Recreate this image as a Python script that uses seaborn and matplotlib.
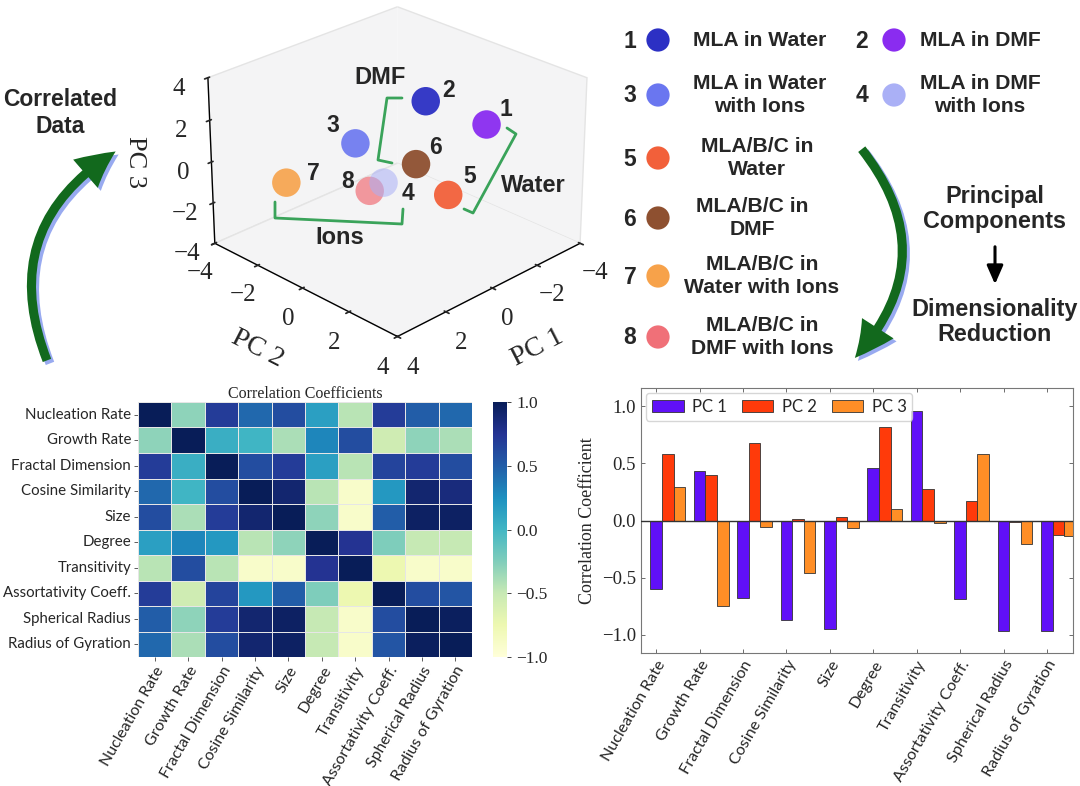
import numpy as np
import pandas as pd
import seaborn as sns
import matplotlib
matplotlib.use("Agg")
import matplotlib.pyplot as plt
from matplotlib.patches import FancyArrowPatch, ArrowStyle
from mpl_toolkits.mplot3d import proj3d

# ---------------- data ----------------
features = ["Nucleation Rate", "Growth Rate", "Fractal Dimension", "Cosine Similarity",
            "Size", "Degree", "Transitivity", "Assortativity Coeff.",
            "Spherical Radius", "Radius of Gyration"]

corr_nucleation = [1.00, -0.30, 0.70, 0.45, 0.60, 0.15, -0.45, 0.70, 0.50, 0.45]
corr_growth     = [-0.30, 1.00, 0.05, 0.00, -0.40, 0.30, 0.60, -0.55, -0.30, -0.40]
corr_fractal    = [0.70, 0.05, 1.00, 0.60, 0.70, 0.15, -0.45, 0.65, 0.70, 0.60]
corr_cosine     = [0.45, 0.00, 0.60, 1.00, 0.90, -0.45, -0.90, 0.20, 0.90, 0.85]
corr_size       = [0.60, -0.40, 0.70, 0.90, 1.00, -0.30, -0.90, 0.50, 0.95, 0.95]
corr_degree     = [0.15, 0.30, 0.20, -0.45, -0.30, 1.00, 0.75, -0.25, -0.50, -0.50]
corr_trans      = [-0.45, 0.60, -0.45, -0.90, -0.90, 0.75, 1.00, -0.75, -0.90, -0.90]
corr_assort     = [0.70, -0.55, 0.65, 0.20, 0.50, -0.25, -0.75, 1.00, 0.60, 0.55]
corr_spherical  = [0.50, -0.30, 0.70, 0.90, 0.95, -0.50, -0.90, 0.60, 1.00, 0.97]
corr_gyration   = [0.45, -0.40, 0.60, 0.90, 0.95, -0.50, -0.90, 0.55, 0.97, 1.00]

pc_names = ["PC 1", "PC 2", "PC 3"]
pc1_loadings = [-0.60, 0.43, -0.68, -0.87, -0.95, 0.46, 0.96, -0.69, -0.97, -0.97]
pc2_loadings = [0.58, 0.40, 0.68, 0.01, 0.03, 0.82, 0.28, 0.17, -0.01, -0.13]
pc3_loadings = [0.29, -0.75, -0.06, -0.46, -0.07, 0.10, -0.02, 0.58, -0.21, -0.14]
pc_colors = ["#6010f8", "#ff3a0a", "#ff8e26"]

sample_ids = ["1", "2", "3", "4", "5", "6", "7", "8"]
sample_names = ["MLA in Water", "MLA in DMF", "MLA in Water\nwith Ions", "MLA in DMF\nwith Ions",
                "MLA/B/C in\nWater", "MLA/B/C in\nDMF", "MLA/B/C in\nWater with Ions",
                "MLA/B/C in\nDMF with Ions"]
legend_colors = ["#2c30c4", "#8a2cf0", "#6a76f0", "#aab0f6", "#f2603a", "#8e5030", "#f7a24a", "#f07078"]

# PCA scores as shown in the 3-D plot (label -> colour as drawn there)
score_pc1 = [-1.9, -0.6, 0.9, 0.3, -1.1, -0.4, 2.4, 0.6]
score_pc2 = [1.9, 0.6, -0.9, -0.3, 1.1, 0.4, -2.4, -0.6]
score_pc3 = [1.8, 2.9, 0.9, -1.0, -1.6, -0.1, -1.0, -1.4]
score_colors = ["#8a2cf0", "#2c30c4", "#6a76f0", "#aab0f6", "#f2603a", "#8e5030", "#f7a24a", "#f07078"]
score_alpha = [0.95, 0.95, 0.9, 0.55, 0.95, 0.95, 0.9, 0.7]

W, H = 1080, 786
sns.set_theme(style="white")
plt.rcParams["font.family"] = ["DejaVu Sans"]
plt.rcParams["axes.unicode_minus"] = True

fig = plt.figure(figsize=(W / 100, H / 100), dpi=100)

def fx(x):
    return x / W

def fy(y):
    return 1 - y / H

SERIF = "Liberation Serif"
SANS_B = "Liberation Sans"
TICKSANS = "Lato"

# ---------------- heatmap ----------------
corr_df = pd.DataFrame([corr_nucleation, corr_growth, corr_fractal, corr_cosine, corr_size,
                        corr_degree, corr_trans, corr_assort, corr_spherical, corr_gyration],
                       index=features, columns=features)
axh = fig.add_axes([fx(138), fy(657), fx(472) - fx(138), fy(402) - fy(657)])
cax = fig.add_axes([fx(493), fy(657), fx(507) - fx(493), fy(402) - fy(657)])
sns.heatmap(corr_df, cmap="YlGnBu", vmin=-1, vmax=1, ax=axh, cbar_ax=cax,
            linewidths=0.4, linecolor="#e6e6e6")
axh.set_title("Correlation Coefficients", family=SERIF, fontsize=11.5, pad=3)
axh.set_yticklabels(features, rotation=0, family=TICKSANS, fontsize=10.8)
axh.set_xticklabels(features, rotation=60, ha="right", rotation_mode="anchor",
                    family=TICKSANS, fontsize=11.4)
axh.tick_params(axis="both", length=3, width=0.6, color="#444", bottom=True, left=True, pad=2)
axh.collections[0].colorbar.outline.set_visible(False)
cax.tick_params(length=3, width=0.6, labelsize=12)
cax.set_yticks([-1, -0.5, 0, 0.5, 1])
cax.set_yticklabels(["\u22121.0", "\u22120.5", "0.0", "0.5", "1.0"], family=SERIF, fontsize=12.5)

# ---------------- bar chart ----------------
load_df = pd.DataFrame({
    "feature": features * 3,
    "component": [pc_names[0]] * 10 + [pc_names[1]] * 10 + [pc_names[2]] * 10,
    "value": pc1_loadings + pc2_loadings + pc3_loadings,
})
axb = fig.add_axes([fx(641), fy(653), fx(1073) - fx(641), fy(388) - fy(653)])
sns.barplot(data=load_df, x="feature", y="value", hue="component", palette=pc_colors,
            saturation=1, edgecolor="#333333", linewidth=0.6, ax=axb, width=0.8)
off = 0.8 / 3
axb.set_xticks(np.arange(10) - off)
axb.set_xticklabels(features, rotation=60, ha="right", rotation_mode="anchor",
                    family=TICKSANS, fontsize=11.6)
axb.set_xlim(-0.35 - off, 9.6 - off)
axb.set_ylim(-1.16, 1.16)
axb.set_yticks([-1.0, -0.5, 0.0, 0.5, 1.0])
axb.set_yticklabels(["\u22121.0", "\u22120.5", "0.0", "0.5", "1.0"], family=SERIF, fontsize=13.5)
axb.set_xlabel("")
axb.set_ylabel("Correlation Coefficient", family=SERIF, fontsize=13)
axb.axhline(0, color="#333333", lw=1.0, zorder=5)
for s in axb.spines.values():
    s.set_color("#777777")
    s.set_linewidth(0.8)
axb.tick_params(direction="in", length=3, width=0.6, color="#555", top=True, right=True,
                bottom=True, left=True)
leg = axb.legend(loc="upper left", ncol=3, frameon=True, handlelength=1.9,
                 handleheight=0.75, columnspacing=0.9, handletextpad=0.5, borderpad=0.35,
                 borderaxespad=0.3, prop={"family": TICKSANS, "size": 12})
leg.get_frame().set_edgecolor("#cccccc")

# ---------------- 3-D scores plot ----------------
ax3 = fig.add_axes([fx(139), fy(369), fx(645) - fx(139), fy(-34) - fy(369)], projection="3d")
ax3.set_box_aspect((4, 4, 2.8))
ax3.view_init(elev=26, azim=45)
ax3.scatter(score_pc1, score_pc2, score_pc3, c=score_colors, s=420,
            depthshade=False, edgecolors="none")
for coll in ax3.collections:
    coll.set_alpha(None)
    coll.set_facecolors([matplotlib.colors.to_rgba(c, a) for c, a in zip(score_colors, score_alpha)])
ax3.set_xlim(-4, 4)
ax3.set_ylim(-4, 4)
ax3.set_zlim(-4, 4)
ax3.set_xticks([-4, -2, 0, 2, 4])
ax3.set_yticks([-4, -2, 0, 2, 4])
ax3.set_zticks([-4, -2, 0, 2, 4])
ax3.grid(False)
for a in (ax3.xaxis, ax3.yaxis, ax3.zaxis):
    a.set_pane_color((0.955, 0.955, 0.96, 1.0))
    a.pane.set_edgecolor("#e4e4e4")
    a.line.set_color("black")
    a.line.set_linewidth(1.0)
for lab in ax3.get_xticklabels() + ax3.get_yticklabels() + ax3.get_zticklabels():
    lab.set_family(SERIF)
    lab.set_fontsize(18)
ax3.xaxis.set_rotate_label(True)
ax3.yaxis.set_rotate_label(True)
ax3.zaxis.set_rotate_label(False)
ax3.set_xlabel("PC 1", family=SERIF, fontsize=20, labelpad=14)
ax3.set_ylabel("PC 2", family=SERIF, fontsize=20, labelpad=14)
ax3.set_zlabel("PC 3", family=SERIF, fontsize=19, labelpad=10, rotation=-90)

# ---------------- overlay ----------------
ov = fig.add_axes([0, 0, 1, 1], zorder=10)
ov.set_xlim(0, W)
ov.set_ylim(H, 0)
ov.axis("off")

fig.canvas.draw()
label_offsets = [(19, -15), (23, -11), (-23, -18), (24, 11), (21, -18), (19, -17), (27, -9), (-22, -9)]
for i, sid in enumerate(sample_ids):
    x2, y2, _ = proj3d.proj_transform(score_pc1[i], score_pc2[i], score_pc3[i], ax3.get_proj())
    px, py = ax3.transData.transform((x2, y2))
    ox, oy = label_offsets[i]
    ov.text(px + ox, H - py + oy, sid, fontsize=16.5, fontweight="bold", family=SANS_B,
            ha="center", va="center")

green = "#3aa35a"
ov.plot([402, 387, 378, 392], [98, 98, 160, 163], color=green, lw=2)
ov.plot([507, 516, 473, 464], [128, 134, 213, 209], color=green, lw=2)
ov.plot([275, 275, 402, 403], [202, 218, 224, 209], color=green, lw=2)
ov.text(380, 78, "DMF", fontsize=17, fontweight="bold", family=SANS_B, ha="center", va="center")
ov.text(533, 185, "Water", fontsize=17, fontweight="bold", family=SANS_B, ha="center", va="center")
ov.text(340, 238, "Ions", fontsize=17, fontweight="bold", family=SANS_B, ha="center", va="center")

# legend panel (top right)
leg_num_x = [630, 862, 630, 862, 630, 630, 630, 630]
leg_y = [40, 40, 95, 95, 158, 218, 276, 337]
leg_dot_x = [658, 894, 658, 894, 658, 658, 658, 658]
leg_txt_x = [760, 980, 760, 980, 757, 752, 762, 762]
ov.scatter(leg_dot_x, leg_y, s=280, c=legend_colors, edgecolors="none", zorder=3)
for i in range(8):
    ov.text(leg_num_x[i], leg_y[i] + 1, sample_ids[i], fontsize=16.5, fontweight="bold",
            family=SANS_B, ha="center", va="center")
    ov.text(leg_txt_x[i], leg_y[i], sample_names[i], fontsize=15.2, fontweight="bold",
            family=SANS_B, ha="center", va="center", linespacing=1.25)

ov.text(60, 113, "Correlated\nData", fontsize=16.5, fontweight="bold", family=SANS_B,
        ha="center", va="center", linespacing=1.2)
ov.text(995, 209, "Principal\nComponents", fontsize=16.8, fontweight="bold", family=SANS_B,
        ha="center", va="center", linespacing=1.15)
ov.text(995, 322, "Dimensionality\nReduction", fontsize=16.8, fontweight="bold", family=SANS_B,
        ha="center", va="center", linespacing=1.15)
ov.add_patch(FancyArrowPatch((995, 244), (995, 287), arrowstyle="-|>,head_length=0.8,head_width=0.35",
                             mutation_scale=14, color="black", lw=2.2))

big = ArrowStyle.Simple(head_length=2.7, head_width=2.7, tail_width=0.65)
for (a, b, rad) in [((48, 363), (118, 150), -0.42), ((860, 147), (853, 360), -0.43)]:
    sh = FancyArrowPatch((a[0] + 3, a[1] + 3), (b[0] + 3, b[1] + 3), arrowstyle=big,
                         connectionstyle=f"arc3,rad={rad}", mutation_scale=10,
                         color="#98aaf0", lw=0)
    ov.add_patch(sh)
    ar = FancyArrowPatch(a, b, arrowstyle=big, connectionstyle=f"arc3,rad={rad}",
                         mutation_scale=10, color="#12691d", lw=0)
    ov.add_patch(ar)

fig.savefig("out.png", dpi=100)
